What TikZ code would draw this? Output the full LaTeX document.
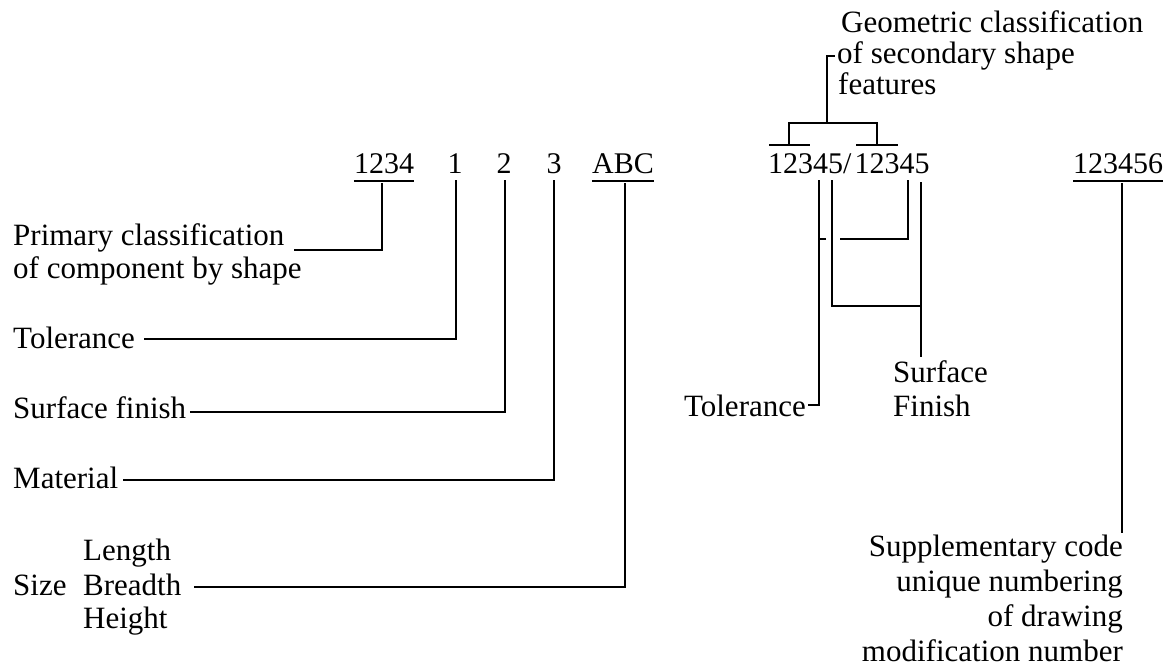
\documentclass[tikz,border=0pt]{standalone}
\usepackage{fontspec}
\setmainfont{Liberation Serif}
\begin{document}
\begin{tikzpicture}[x=1pt,y=-1pt,
  lbl/.style={inner sep=0pt, font=\fontsize{31}{35}\selectfont},
  code/.style={inner sep=0pt, font=\fontsize{30}{34}\selectfont},
  ln/.style={line width=2pt}]
\useasboundingbox (0,0) rectangle (1166,666);

% ---- code row ----
\node[code, anchor=base] (c1234) at (384,173) {1234};
\node[code, anchor=base] (c1) at (455,173) {1};
\node[code, anchor=base] (c2) at (504,173) {2};
\node[code, anchor=base] (c3) at (554,173) {3};
\node[code, anchor=base] (cabc) at (623,173) {ABC};
\node[code, anchor=base west] (cgeo) at (768,173) {12345/\kern3pt12345};
\node[code, anchor=base west] (csup) at (1073,173) {123456};

% underlines / overlines
\draw[ln] ([yshift=-8pt]c1234.base west) -- ([yshift=-8pt]c1234.base east);
\draw[ln] ([yshift=-8pt]cabc.base west) -- ([yshift=-8pt]cabc.base east);
\draw[ln] ([yshift=-8pt]csup.base west) -- ([yshift=-8pt]csup.base east);
\coordinate (ol1a) at (769,145); \coordinate (ol1b) at (810,145);
\coordinate (ol2a) at (856,145); \coordinate (ol2b) at (898,145);
\draw[ln] (ol1a) -- (ol1b);
\draw[ln] (ol2a) -- (ol2b);

% ---- left labels ----
\node[lbl, anchor=base west] (prim) at (13,245) {Primary classification};
\node[lbl, anchor=base west] (prim2) at (13,278) {of component by shape};
\node[lbl, anchor=base west] (tol) at (13,348) {Tolerance};
\node[lbl, anchor=base west] (surf) at (13,418) {Surface finish};
\node[lbl, anchor=base west] (mat) at (13,488) {Material};
\node[lbl, anchor=base west] (sz) at (13,595) {Size};
\node[lbl, anchor=base west] (brd) at (83,595) {Breadth};
\node[lbl, anchor=base west] (len) at (83,560) {Length};
\node[lbl, anchor=base west] (hgt) at (83,628) {Height};

% ---- right labels ----
\node[lbl, anchor=base west] (g1) at (841,33) {Geometric classification};
\node[lbl, anchor=base west] (g2) at (837,64) {of secondary shape};
\node[lbl, anchor=base west] (g3) at (838,95) {features};
\node[lbl, anchor=base east] (tolr) at (806,416) {Tolerance};
\node[lbl, anchor=base west] (sf1) at (893,382) {Surface};
\node[lbl, anchor=base west] (sf2) at (893,416) {Finish};
\node[lbl, anchor=base east] (sup1) at (1123,556) {Supplementary code};
\node[lbl, anchor=base east] (sup2) at (1123,591) {unique numbering};
\node[lbl, anchor=base east] (sup3) at (1123,626) {of drawing};
\node[lbl, anchor=base east] (sup4) at (1123,661) {modification number};

% ---- left connectors ----
\coordinate (v1234) at (382,183);
\coordinate (v1) at (456,180);
\coordinate (v2) at (505,180);
\coordinate (v3) at (554,180);
\coordinate (vabc) at (625,183);
\coordinate (pe) at (294,250);
\draw[ln] (v1234) |- (pe);
\draw[ln] (v1) |- ([xshift=9pt,yshift=-2pt]tol.east);
\draw[ln] (v2) |- ([xshift=4pt,yshift=-5pt]surf.east);
\draw[ln] (v3) |- ([xshift=5pt,yshift=-3pt]mat.east);
\draw[ln] (vabc) |- ([xshift=12pt,yshift=-3pt]brd.east);

% ---- bracket to geometric classification ----
\coordinate (bl) at (789,145); \coordinate (br) at (877,145);
\coordinate (bm) at (827,123);
\draw[ln] (bl) |- (bm) -| (br);
\draw[ln] (bm) |- ([xshift=-2pt]g2.west);

% ---- right connectors ----
\coordinate (a0) at (819,180);
\coordinate (b0) at (832,180);
\coordinate (cc0) at (908,180);
\coordinate (d0) at (921,182);
\coordinate (d1) at (921,357);
\coordinate (bj) at (921,306);
\coordinate (cgr) at (840,239);
\coordinate (cgl) at (826,239);
\coordinate (ca) at (819,239);
\draw[ln] (a0) |- ([xshift=2pt]tolr.east);
\draw[ln] (b0) |- (bj);
\draw[ln] (d0) -- (d1);
\draw[ln] (cc0) |- (cgr);
\draw[ln] (cgl) -- (ca);

% ---- supplementary ----
\coordinate (vs0) at (1122,183);
\coordinate (vs1) at (1122,533);
\draw[ln] (vs0) -- (vs1);
\end{tikzpicture}
\end{document}
